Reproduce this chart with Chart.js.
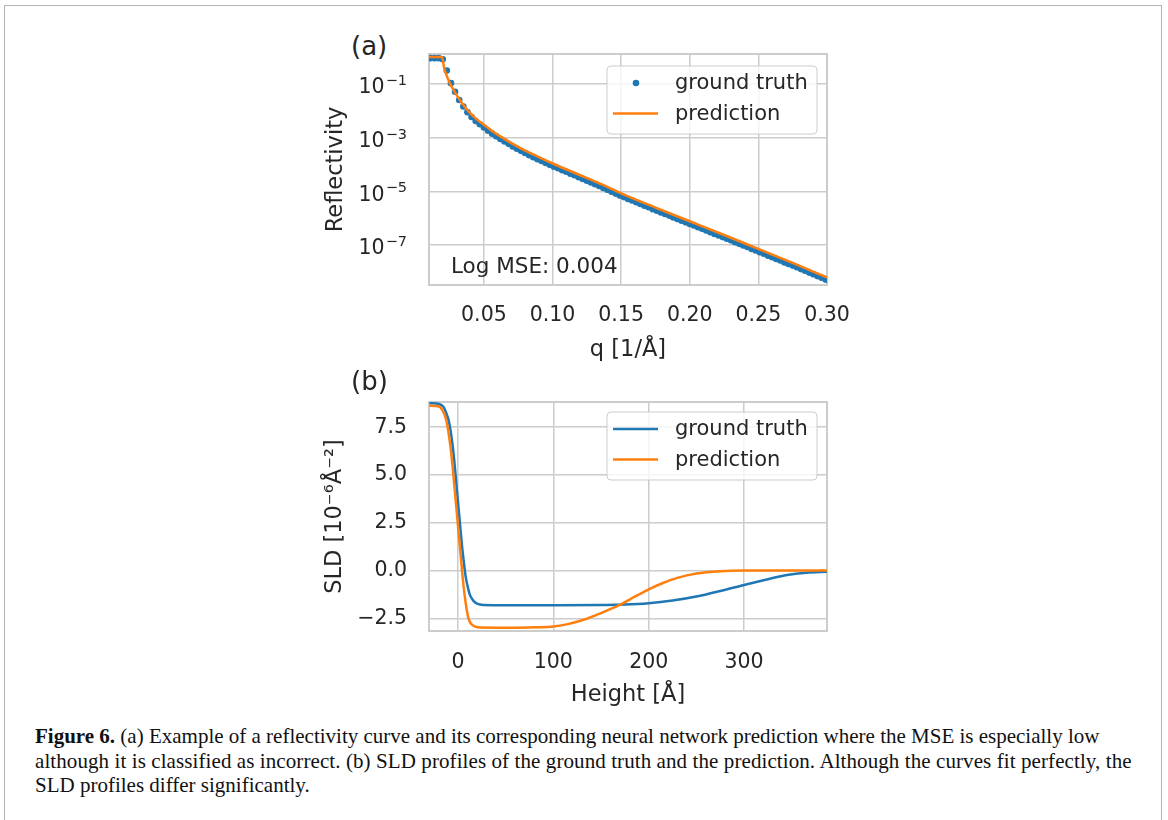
<!DOCTYPE html>
<html>
<head>
<meta charset="utf-8">
<script src="https://cdn.jsdelivr.net/npm/chart.js@4.4.1/dist/chart.umd.min.js"></script>
<style>
body{margin:0;background:#fff;width:1168px;height:820px;position:relative;overflow:hidden;font-family:'DejaVu Sans',sans-serif}
.frame{position:absolute;left:4px;top:5px;width:1158px;height:860px;border:1.5px solid #b4b4b4;box-sizing:border-box}
canvas{position:absolute}
.panel{position:absolute;font-size:26px;color:#262626;line-height:30px}
.caption{position:absolute;left:35px;top:724px;font-family:'Liberation Serif',serif;font-size:21px;line-height:24.5px;color:#111;white-space:nowrap}
</style>
</head>
<body>
<div class="frame"></div>
<div class="panel" style="left:351px;top:31px">(a)</div>
<canvas id="reflChart" width="540" height="345" style="left:320px;top:30px"></canvas>
<div class="panel" style="left:351px;top:366px">(b)</div>
<canvas id="sldChart" width="540" height="340" style="left:320px;top:370px"></canvas>
<div class="caption"><b>Figure 6.</b> (a) Example of a reflectivity curve and its corresponding neural network prediction where the MSE is especially low<br><span style="letter-spacing:0.09px">although it is classified as incorrect. (b) SLD profiles of the ground truth and the prediction. Although the curves fit perfectly, the</span><br>SLD profiles differ significantly.</div>
<script>
// (a) reflectivity, ground truth points (log10 of R)
const qTruth = [0.011,0.014,0.017,0.020,0.023,0.026,0.029,0.032,0.035,0.038,
  0.041,0.044,0.047,0.050,0.053,0.056,0.059,0.062,0.065,0.068,
  0.071,0.074,0.077,0.080,0.083,0.086,0.089,0.092,0.095,0.098,
  0.101,0.104,0.107,0.110,0.113,0.116,0.119,0.122,0.125,0.128,
  0.131,0.134,0.137,0.140,0.143,0.146,0.149,0.152,0.155,0.158,
  0.161,0.164,0.167,0.170,0.173,0.176,0.179,0.182,0.185,0.188,
  0.191,0.194,0.197,0.200,0.203,0.206,0.209,0.212,0.215,0.218,
  0.221,0.224,0.227,0.230,0.233,0.236,0.239,0.242,0.245,0.248,
  0.251,0.254,0.257,0.260,0.263,0.266,0.269,0.272,0.275,0.278,
  0.281,0.284,0.287,0.290,0.293,0.296,0.299]
const logRTruth = [-0.04,-0.04,-0.04,-0.08,-0.50,-0.97,-1.29,-1.60,-1.84,-2.05,
  -2.23,-2.38,-2.50,-2.62,-2.74,-2.85,-2.95,-3.05,-3.14,-3.23,
  -3.33,-3.41,-3.49,-3.57,-3.65,-3.73,-3.80,-3.87,-3.94,-4.01,
  -4.08,-4.14,-4.21,-4.27,-4.34,-4.40,-4.47,-4.54,-4.60,-4.67,
  -4.73,-4.80,-4.87,-4.94,-5.01,-5.08,-5.15,-5.21,-5.28,-5.34,
  -5.40,-5.47,-5.53,-5.59,-5.66,-5.72,-5.78,-5.84,-5.90,-5.97,
  -6.03,-6.09,-6.15,-6.21,-6.27,-6.33,-6.39,-6.45,-6.52,-6.58,
  -6.64,-6.70,-6.76,-6.82,-6.89,-6.95,-7.01,-7.07,-7.14,-7.20,
  -7.26,-7.32,-7.39,-7.45,-7.51,-7.57,-7.64,-7.70,-7.76,-7.82,
  -7.89,-7.95,-8.02,-8.08,-8.15,-8.21,-8.28]

// (a) prediction line
const qPred = [0.010,0.015,0.0195,0.021,0.0238,0.027,0.0311,0.0345,0.0384,0.044,
  0.0505,0.056,0.0626,0.070,0.082,0.090,0.1002,0.1184,0.135,0.150,
  0.175,0.200,0.225,0.250,0.275,0.300]
const logRPred = [0.00,0.00,0.00,-0.40,-0.81,-1.15,-1.49,-1.75,-1.99,-2.28,
  -2.54,-2.75,-2.97,-3.20,-3.53,-3.72,-3.96,-4.36,-4.72,-5.07,
  -5.60,-6.11,-6.62,-7.14,-7.66,-8.20]

const qTicks = [0.05,0.10,0.15,0.20,0.25,0.30]
const qTickLabels = ['0.05','0.10','0.15','0.20','0.25','0.30']
const rTicks = [1e-1,1e-3,1e-5,1e-7]
const rTickBase = '10'
const rTickExp = ['−1','−3','−5','−7']

// (b) SLD profiles
const hTruth = [-30,-20,-15,-12,-10,-8,-6,-4,-2,0,2,4,6,8,10,12,15,18,22,27,
  50,100,150,175,200,225,250,275,300,325,345,365,387]
const sldTruth = [8.76,8.72,8.55,8.2,7.9,7.4,6.7,5.8,4.7,3.6,2.5,1.4,0.5,-0.3,-0.8,-1.2,-1.5,-1.67,-1.76,-1.80,
  -1.81,-1.81,-1.80,-1.78,-1.71,-1.57,-1.36,-1.07,-0.75,-0.45,-0.23,-0.11,-0.06]
const hPred = [-30,-20,-16,-13,-11,-9,-7,-5,-3,-1,1,3,5,7,9,11,14,18,24,
  60,80,100,115,130,150,170,185,200,215,230,250,275,300,387]
const sldPred = [8.62,8.58,8.35,8.0,7.55,6.9,6.1,5.1,4.0,2.9,1.8,0.7,-0.4,-1.3,-2.0,-2.5,-2.8,-2.93,-2.98,
  -2.99,-2.97,-2.93,-2.80,-2.60,-2.22,-1.78,-1.38,-0.98,-0.65,-0.38,-0.15,-0.03,0.0,0.0]

const hTicks = [0,100,200,300]
const sldTicks = [-2.5,0,2.5,5,7.5]
const sldTickLabels = ['−2.5','0.0','2.5','5.0','7.5']

const blue = '#1f77b4'
const orange = '#ff7f0e'
const ink = '#262626'
const gridCol = '#cccccc'
const tickFont = {family:'DejaVu Sans', size:20.5}
const titleFont = {family:'DejaVu Sans', size:22.5}

// light grey box round the plot area (seaborn style spines)
const frameBox = {
  id:'frameBox',
  beforeDatasetsDraw(chart){
    const a = chart.chartArea, ctx = chart.ctx
    ctx.save()
    ctx.strokeStyle = gridCol
    ctx.lineWidth = 2
    ctx.strokeRect(a.left, a.top, a.right - a.left, a.bottom - a.top)
    ctx.restore()
  }
}

// legend drawn inside the axes, upper right
const boxLegend = {
  id:'boxLegend',
  afterDraw(chart, args, opts){
    const a = chart.chartArea, ctx = chart.ctx
    const x0 = a.right - 220, y0 = a.top + opts.top, w = 210, h = 68
    ctx.save()
    ctx.beginPath()
    ctx.roundRect(x0, y0, w, h, 4)
    ctx.fillStyle = 'rgba(255,255,255,0.8)'
    ctx.fill()
    ctx.strokeStyle = gridCol
    ctx.lineWidth = 1
    ctx.stroke()
    ctx.font = '21px "DejaVu Sans"'
    ctx.textBaseline = 'middle'
    opts.items.forEach((it, i) => {
      const y = y0 + 17 + i * 30.5
      if (it.kind == 'dot') {
        ctx.fillStyle = it.color
        ctx.beginPath()
        ctx.arc(x0 + 29, y, 3.3, 0, Math.PI * 2)
        ctx.fill()
      } else {
        ctx.strokeStyle = it.color
        ctx.lineWidth = 2.5
        ctx.beginPath()
        ctx.moveTo(x0 + 6, y)
        ctx.lineTo(x0 + 51, y)
        ctx.stroke()
      }
      ctx.fillStyle = ink
      ctx.fillText(it.label, x0 + 68, y + 1)
    })
    ctx.restore()
  }
}

// "Log MSE" note, lower left of panel (a)
const mseNote = {
  id:'mseNote',
  afterDatasetsDraw(chart, args, opts){
    if (!opts.text) return
    const a = chart.chartArea, ctx = chart.ctx
    ctx.save()
    ctx.font = '21.5px "DejaVu Sans"'
    ctx.fillStyle = ink
    ctx.textBaseline = 'alphabetic'
    ctx.fillText(opts.text, a.left + 22, a.bottom - 12.5)
    ctx.restore()
  }
}

// 10^n tick labels with a raised, smaller exponent (like matplotlib)
const powerTicks = {
  id:'powerTicks',
  afterDraw(chart, args, opts){
    if (!opts.exps) return
    const ctx = chart.ctx, y = chart.scales.y, a = chart.chartArea
    ctx.save()
    ctx.fillStyle = ink
    ctx.textAlign = 'right'
    ctx.textBaseline = 'alphabetic'
    y.ticks.forEach((t, i) => {
      const py = y.getPixelForValue(t.value)
      const right = a.left - 22
      ctx.font = '14.5px "DejaVu Sans"'
      const ew = ctx.measureText(opts.exps[i]).width
      ctx.fillText(opts.exps[i], right, py + 1)
      ctx.font = '20.5px "DejaVu Sans"'
      ctx.fillText(opts.base, right - ew - 1, py + 9.3)
    })
    ctx.restore()
  }
}

// move the plot area onto the wanted pixel box (canvas coords)
function pinArea(chart, target){
  for (let k = 0; k < 2; k++) {
    const a = chart.chartArea
    const p = Object.assign({}, chart.options.layout.padding)
    p.left += target.left - a.left
    p.top += target.top - a.top
    p.right += a.right - target.right
    p.bottom += a.bottom - target.bottom
    chart.options.layout.padding = p
    chart.update()
  }
}

function gridOpts(){ return {color:gridCol, lineWidth:1.5, drawTicks:false} }

// fixed axis size, no extra room asked for the end labels
function fixX(h){ return s => { s.height = h; s.paddingLeft = 0; s.paddingRight = 0 } }
function fixY(w){ return s => { s.width = w; s.paddingTop = 0; s.paddingBottom = 0 } }

const reflChart = new Chart(document.getElementById('reflChart'), {
  type:'scatter',
  data:{datasets:[
    {label:'prediction', data:qPred.map((q,i)=>({x:q, y:Math.pow(10, logRPred[i])})),
      showLine:true, borderColor:orange, borderWidth:2.5, pointRadius:0,
      cubicInterpolationMode:'monotone', order:0},
    {label:'ground truth', data:qTruth.map((q,i)=>({x:q, y:Math.pow(10, logRTruth[i])})),
      showLine:false, pointRadius:3.3, pointBackgroundColor:blue, pointBorderWidth:0, order:1}
  ]},
  options:{
    responsive:false, animation:false, events:[],
    layout:{padding:{left:0, top:24, right:33, bottom:0}},
    plugins:{
      legend:{display:false}, tooltip:{enabled:false},
      boxLegend:{top:12, items:[{label:'ground truth', color:blue, kind:'dot'},{label:'prediction', color:orange, kind:'line'}]},
      mseNote:{text:'Log MSE: 0.004'},
      powerTicks:{base:rTickBase, exps:rTickExp}
    },
    scales:{
      x:{type:'linear', min:0.01, max:0.30,
        afterBuildTicks:s=>{s.ticks = qTicks.map(v=>({value:v}))},
        afterFit:fixX(90),
        ticks:{font:tickFont, color:ink, padding:18, maxRotation:0,
          callback:v=>qTickLabels[qTicks.indexOf(v)]},
        grid:gridOpts(), border:{display:false},
        title:{display:true, text:'q [1/Å]', font:titleFont, color:ink, padding:{top:0, bottom:11.5}}},
      y:{type:'logarithmic', min:3.3e-9, max:1.3,
        afterBuildTicks:s=>{s.ticks = rTicks.map(v=>({value:v}))},
        afterFit:fixY(109),
        ticks:{display:false},
        grid:gridOpts(), border:{display:false},
        title:{display:true, text:'Reflectivity', font:titleFont, color:ink, padding:{top:2.5, bottom:0}}}
    }
  },
  plugins:[frameBox, boxLegend, mseNote, powerTicks]
})
pinArea(reflChart, {left:109, top:24, right:507, bottom:255})

const sldChart = new Chart(document.getElementById('sldChart'), {
  type:'scatter',
  data:{datasets:[
    {label:'prediction', data:hPred.map((h,i)=>({x:h, y:sldPred[i]})),
      showLine:true, borderColor:orange, borderWidth:2.5, pointRadius:0,
      cubicInterpolationMode:'monotone', order:0},
    {label:'ground truth', data:hTruth.map((h,i)=>({x:h, y:sldTruth[i]})),
      showLine:true, borderColor:blue, borderWidth:2.5, pointRadius:0,
      cubicInterpolationMode:'monotone', order:1}
  ]},
  options:{
    responsive:false, animation:false, events:[],
    layout:{padding:{left:0, top:32, right:33, bottom:0}},
    plugins:{
      legend:{display:false}, tooltip:{enabled:false},
      boxLegend:{top:10, items:[{label:'ground truth', color:blue, kind:'line'},{label:'prediction', color:orange, kind:'line'}]},
      mseNote:{}, powerTicks:{}
    },
    scales:{
      x:{type:'linear', min:-30.4, max:387,
        afterBuildTicks:s=>{s.ticks = hTicks.map(v=>({value:v}))},
        afterFit:fixX(79),
        ticks:{font:tickFont, color:ink, padding:19, maxRotation:0},
        grid:gridOpts(), border:{display:false},
        title:{display:true, text:'Height [Å]', font:titleFont, color:ink, padding:{top:0, bottom:1.5}}},
      y:{type:'linear', min:-3.16, max:8.82,
        afterBuildTicks:s=>{s.ticks = sldTicks.map(v=>({value:v}))},
        afterFit:fixY(109),
        ticks:{font:tickFont, color:ink, padding:22,
          callback:v=>sldTickLabels[sldTicks.indexOf(v)]},
        grid:gridOpts(), border:{display:false},
        title:{display:true, text:'SLD [10⁻⁶Å⁻²]', font:titleFont, color:ink, padding:{top:1.5, bottom:0}}}
    }
  },
  plugins:[frameBox, boxLegend, mseNote, powerTicks]
})
pinArea(sldChart, {left:109, top:32, right:507, bottom:261})
</script>
</body>
</html>
